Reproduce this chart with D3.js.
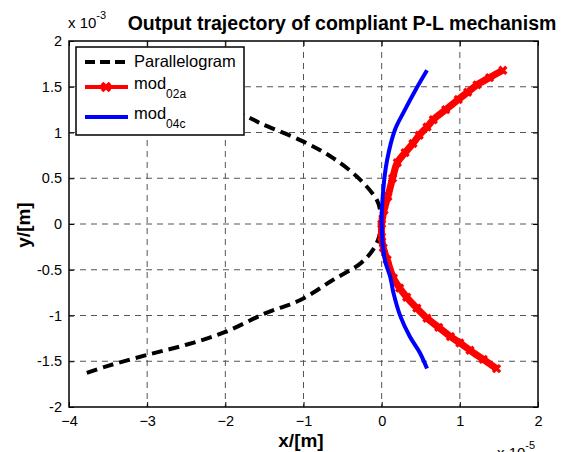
<!DOCTYPE html>
<html>
<head>
<meta charset="utf-8">
<script src="https://cdn.jsdelivr.net/npm/d3@7"></script>
<style>
  body { margin: 0; background: #fff; }
  text { font-family: "Liberation Sans", Arial, sans-serif; }
</style>
</head>
<body>
<div id="chart"></div>
<script>
// values in units of 1e-5 m (x) and 1e-3 m (y)
let paraX = [-3.78, -3.5, -3.0, -2.5, -2.0, -1.77, -1.55, -1.0, -0.62, -0.27, -0.06, -0.02, -0.02, -0.11, -0.27, -0.62, -1.04, -1.5, -2.0, -2.5, -3.0, -3.5, -3.78];
let paraY = [1.66, 1.56, 1.44, 1.32, 1.22, 1.19, 1.10, 0.90, 0.72, 0.48, 0.26, 0.15, -0.10, -0.28, -0.43, -0.61, -0.83, -0.98, -1.18, -1.32, -1.43, -1.55, -1.63];

let modAX = [1.55, 1.38, 1.22, 1.10, 0.98, 0.82, 0.66, 0.58, 0.48, 0.40, 0.30, 0.20, 0.14, 0.08, 0.03, 0.0, 0.0, 0.02, 0.07, 0.15, 0.23, 0.32, 0.45, 0.58, 0.73, 0.88, 1.0, 1.13, 1.30, 1.47];
let modAY = [1.68, 1.60, 1.52, 1.44, 1.36, 1.25, 1.14, 1.06, 0.97, 0.88, 0.78, 0.67, 0.50, 0.30, 0.15, 0.0, -0.14, -0.26, -0.39, -0.59, -0.70, -0.80, -0.92, -1.03, -1.13, -1.23, -1.30, -1.38, -1.48, -1.58];

let modCX = [0.58, 0.43, 0.28, 0.17, 0.07, 0.02, 0.0, 0.04, 0.11, 0.15, 0.24, 0.36, 0.49, 0.58];
let modCY = [1.68, 1.46, 1.22, 1.03, 0.70, 0.37, 0.0, -0.39, -0.58, -0.75, -1.01, -1.23, -1.41, -1.58];

let xTicks = [-4, -3, -2, -1, 0, 1, 2];
let yTicks = [-2, -1.5, -1, -0.5, 0, 0.5, 1, 1.5, 2];

let legendNames = [["Parallelogram", ""], ["mod", "02a"], ["mod", "04c"]];
let legendColors = ["#000", "#ff0000", "#0000ff"];

const W = 562, H = 452;
const margin = {top: 41, right: 24, bottom: 45, left: 69};
const width = 538 - margin.left;
const height = 407 - margin.top;

const svg = d3.select("#chart").append("svg")
    .attr("width", W)
    .attr("height", H);

const g = svg.append("g")
    .attr("transform", `translate(${margin.left},${margin.top})`);

const x = d3.scaleLinear().domain([-4, 2]).range([0, width]);
const y = d3.scaleLinear().domain([-2, 2]).range([height, 0]);

// grid
g.append("g").selectAll("line")
    .data(xTicks.slice(1, -1))
    .enter().append("line")
    .attr("x1", d => x(d)).attr("x2", d => x(d))
    .attr("y1", 0).attr("y2", height)
    .attr("stroke", "#555").attr("stroke-width", 1)
    .attr("stroke-dasharray", "6,5");

g.append("g").selectAll("line")
    .data(yTicks.slice(1, -1))
    .enter().append("line")
    .attr("y1", d => y(d)).attr("y2", d => y(d))
    .attr("x1", 0).attr("x2", width)
    .attr("stroke", "#555").attr("stroke-width", 1)
    .attr("stroke-dasharray", "6,5");

// axes
const xAxis = d3.axisBottom(x).tickValues(xTicks).tickSize(-5).tickPadding(9).tickFormat(d3.format("d"));
const yAxis = d3.axisLeft(y).tickValues(yTicks).tickSize(-5).tickPadding(7).tickFormat(d => d);
const xTop = d3.axisTop(x).tickValues(xTicks).tickSize(-5).tickFormat("");
const yRight = d3.axisRight(y).tickValues(yTicks).tickSize(-5).tickFormat("");

function styleAxis(sel) {
    sel.select(".domain").remove();
    sel.selectAll("line").attr("stroke", "#000");
    sel.selectAll("text").attr("font-size", 14.5).attr("fill", "#000")
        .style("font-family", "'Liberation Sans', Arial, sans-serif");
}

g.append("g").attr("transform", `translate(0,${height})`).call(xAxis).call(styleAxis);
g.append("g").call(yAxis).call(styleAxis);
g.append("g").call(xTop).call(styleAxis);
g.append("g").attr("transform", `translate(${width},0)`).call(yRight).call(styleAxis);

g.append("rect")
    .attr("width", width).attr("height", height)
    .attr("fill", "none").attr("stroke", "#000").attr("stroke-width", 1.5);

const lineP = d3.line().x(d => x(d[0])).y(d => y(d[1])).curve(d3.curveCatmullRom);

const paraData = paraX.map((v, i) => [v, paraY[i]]);
const modAData = modAX.map((v, i) => [v, modAY[i]]);
const modCData = modCX.map((v, i) => [v, modCY[i]]);

g.append("path").datum(paraData)
    .attr("fill", "none").attr("stroke", "#000").attr("stroke-width", 4)
    .attr("stroke-dasharray", "11,6")
    .attr("d", lineP);

g.append("path").datum(modAData)
    .attr("fill", "none").attr("stroke", "#ff0000").attr("stroke-width", 7)
    .attr("d", lineP);

const star = d3.symbol().type(d3.symbolCross).size(55);
g.append("g").selectAll("path")
    .data(modAData)
    .enter().append("path")
    .attr("transform", d => `translate(${x(d[0])},${y(d[1])}) rotate(45)`)
    .attr("d", star)
    .attr("fill", "#ff0000");

g.append("path").datum(modCData)
    .attr("fill", "none").attr("stroke", "#0000ff").attr("stroke-width", 4)
    .attr("d", lineP);

// legend
const leg = svg.append("g").attr("transform", "translate(76,47)");
leg.append("rect")
    .attr("width", 168).attr("height", 88)
    .attr("fill", "#fff").attr("stroke", "#000").attr("stroke-width", 1.5);

const rows = [15, 40, 70];
legendNames.forEach((nm, i) => {
    const item = leg.append("g").attr("transform", `translate(0,${rows[i]})`);
    item.append("line")
        .attr("x1", 9).attr("x2", 52).attr("y1", 0).attr("y2", 0)
        .attr("stroke", legendColors[i])
        .attr("stroke-width", 4)
        .attr("stroke-dasharray", i === 0 ? "10,5" : null);
    if (i === 1) {
        item.append("path")
            .attr("transform", "translate(30,0) rotate(45)")
            .attr("d", d3.symbol().type(d3.symbolCross).size(70))
            .attr("fill", legendColors[i]);
    }
    const t = item.append("text").attr("x", 58).attr("y", i === 0 ? 5 : 2).attr("font-size", 16.5).attr("fill", "#000");
    t.append("tspan").text(nm[0]);
    if (nm[1]) {
        t.append("tspan").attr("dy", 9).attr("font-size", 12).text(nm[1]);
    }
});

// title and labels
svg.append("text")
    .attr("x", 342).attr("y", 30)
    .attr("text-anchor", "middle")
    .attr("font-size", 19.5).attr("font-weight", "bold")
    .text("Output trajectory of compliant P-L mechanism");

const ex1 = svg.append("text").attr("x", 68).attr("y", 28).attr("font-size", 15);
ex1.append("tspan").text("x 10");
ex1.append("tspan").attr("dy", -9).attr("font-size", 11).text("-3");

const ex2 = svg.append("text").attr("x", 497).attr("y", 458).attr("font-size", 15);
ex2.append("tspan").text("x 10");
ex2.append("tspan").attr("dy", -9).attr("font-size", 11).text("-5");

svg.append("text")
    .attr("x", 301).attr("y", 447)
    .attr("text-anchor", "middle")
    .attr("font-size", 19).attr("font-weight", "bold")
    .text("x/[m]");

svg.append("text")
    .attr("transform", "translate(30,225) rotate(-90)")
    .attr("text-anchor", "middle")
    .attr("font-size", 19).attr("font-weight", "bold")
    .text("y/[m]");
</script>
</body>
</html>
